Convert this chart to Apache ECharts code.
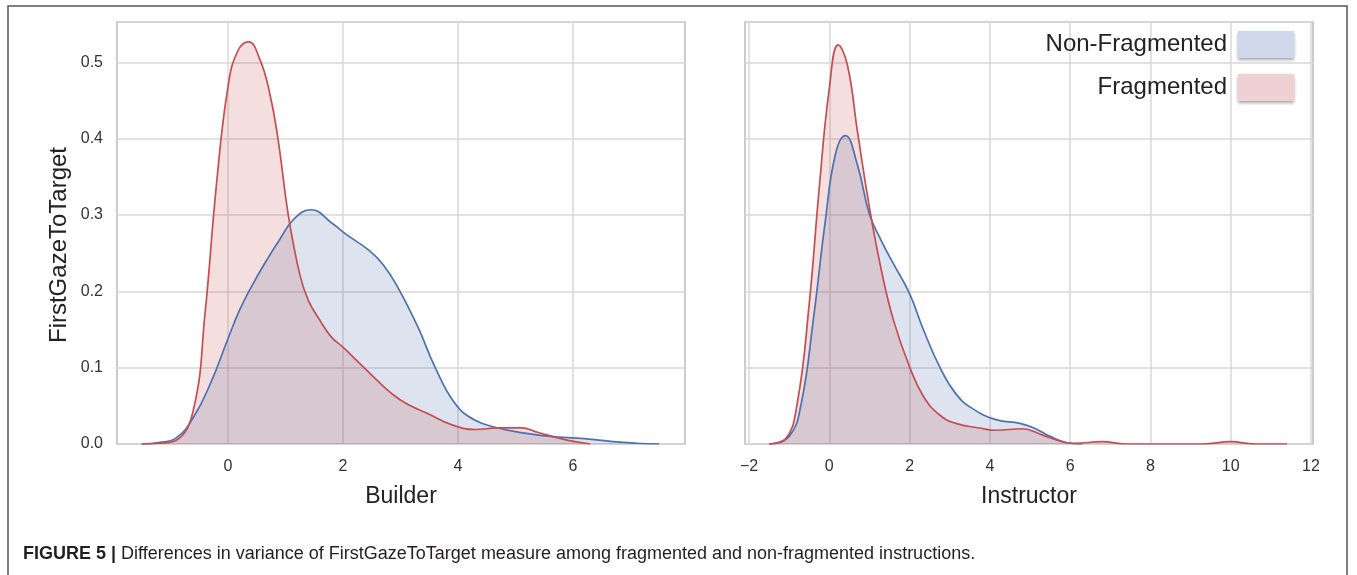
<!DOCTYPE html>
<html>
<head>
<meta charset="utf-8">
<script src="https://cdn.jsdelivr.net/npm/echarts@6/dist/echarts.min.js"></script>
<style>html,body{margin:0;padding:0;background:#fff}#c{width:1357px;height:575px}</style>
</head>
<body>
<div id="c"></div>
<script>
// ---- data ----
const seriesNames = ['Non-Fragmented', 'Fragmented'];
const panelTitles = ['Builder', 'Instructor'];
const yTitle = 'FirstGazeToTarget';
const yTicks = [0, 0.1, 0.2, 0.3, 0.4, 0.5];
const builderTicks = [0, 2, 4, 6];
const instructorTicks = [-2, 0, 2, 4, 6, 8, 10, 12];

// Builder panel
const builderNonFragX = [-1.5, -1.2, -0.9, -0.6, -0.3, 0.0, 0.2, 0.4, 0.65, 0.9, 1.15, 1.45, 1.8, 2.05, 2.45, 2.7, 2.95, 3.3, 3.6, 3.95, 4.3, 4.7, 5.1, 5.6, 6.2, 6.7, 7.1, 7.5];
const builderNonFragY = [0, 0.002, 0.008, 0.035, 0.08, 0.138, 0.175, 0.205, 0.238, 0.268, 0.295, 0.307, 0.29, 0.275, 0.254, 0.235, 0.206, 0.154, 0.101, 0.053, 0.031, 0.021, 0.015, 0.010, 0.007, 0.003, 0.001, 0];
const builderFragX = [-1.5, -1.2, -0.9, -0.6, -0.4, -0.2, 0.0, 0.17, 0.36, 0.55, 0.72, 0.87, 1.05, 1.25, 1.4, 1.6, 1.8, 2.0, 2.3, 2.6, 2.85, 3.1, 3.5, 3.9, 4.3, 4.7, 5.1, 5.4, 5.9, 6.3];
const builderFragY = [0, 0.001, 0.005, 0.045, 0.17, 0.34, 0.468, 0.515, 0.527, 0.505, 0.462, 0.40, 0.30, 0.222, 0.188, 0.162, 0.14, 0.127, 0.105, 0.083, 0.066, 0.053, 0.039, 0.025, 0.019, 0.021, 0.021, 0.015, 0.005, 0];

// Instructor panel
const instrNonFragX = [-1.5, -1.0, -0.7, -0.4, -0.1, 0.15, 0.4, 0.7, 1.0, 1.3, 1.6, 2.0, 2.35, 2.75, 3.15, 3.55, 4.15, 4.75, 5.1, 5.5, 5.9, 6.3];
const instrNonFragY = [0, 0.01, 0.053, 0.162, 0.292, 0.379, 0.404, 0.366, 0.301, 0.266, 0.236, 0.197, 0.149, 0.101, 0.066, 0.047, 0.032, 0.027, 0.021, 0.010, 0.002, 0];
const instrFragX = [-1.5, -1.1, -0.8, -0.5, -0.25, 0.0, 0.22, 0.45, 0.7, 1.0, 1.3, 1.6, 2.0, 2.35, 2.75, 3.15, 3.75, 4.15, 4.8, 5.3, 5.8, 6.1, 6.8, 7.4, 9.3, 10.0, 10.6, 11.4];
const instrFragY = [0, 0.006, 0.053, 0.184, 0.336, 0.466, 0.523, 0.497, 0.41, 0.31, 0.227, 0.162, 0.101, 0.062, 0.038, 0.027, 0.021, 0.018, 0.02, 0.012, 0.003, 0.001, 0.003, 0, 0, 0.003, 0, 0];

const captionBold = 'FIGURE 5 |';
const captionText = ' Differences in variance of FirstGazeToTarget measure among fragmented and non-fragmented instructions.';

// ---- styling ----
const FONT = '"Liberation Sans", Arial, sans-serif';
const BLUE = '#4c72b0', RED = '#c44e52';
const BLUE_FILL = 'rgba(76,114,176,0.27)', RED_FILL = 'rgba(196,78,82,0.27)';
const GRIDC = '#d8d8d8';

function zip(xs, ys) { return xs.map((x, i) => [x, ys[i]]); }

function xAxis(idx, min, max, ticks, name) {
  return {
    type: 'value', gridIndex: idx, min: min, max: max,
    name: name, nameLocation: 'middle', nameGap: 41,
    nameTextStyle: { fontSize: 23, color: '#222', fontFamily: FONT },
    axisLine: { show: false },
    axisTick: { show: false, customValues: ticks },
    axisLabel: { customValues: ticks, fontSize: 16, color: '#333', margin: 15, fontFamily: FONT,
      formatter: v => (v < 0 ? '\u2212' + Math.abs(v) : String(v)) },
    splitLine: { show: true, lineStyle: { color: GRIDC, width: 1.5 } }
  };
}
function yAxis(idx, showLabels) {
  return {
    type: 'value', gridIndex: idx, min: 0, max: 0.553, interval: 0.1,
    axisLine: { show: false }, axisTick: { show: false },
    axisLabel: { show: showLabels, fontSize: 16, color: '#333', margin: 14, fontFamily: FONT,
      showMaxLabel: false, formatter: v => v.toFixed(1) },
    splitLine: { show: true, lineStyle: { color: GRIDC, width: 1.5 } }
  };
}
function kde(name, idx, data, color, fill) {
  return {
    name: name, type: 'line', xAxisIndex: idx, yAxisIndex: idx,
    data: data, smooth: 0.45, showSymbol: false, symbol: 'none',
    lineStyle: { color: color, width: 1.7 }, itemStyle: { color: color },
    areaStyle: { color: fill, origin: 'start' }, silent: true, animation: false
  };
}

const chart = echarts.init(document.getElementById('c'), null, { renderer: 'canvas' });
chart.setOption({
  animation: false,
  backgroundColor: '#fff',
  grid: [
    { left: 117, top: 22, width: 568, height: 422, show: true, borderColor: '#cccccc', borderWidth: 2, backgroundColor: 'transparent' },
    { left: 745, top: 22, width: 568, height: 422, show: true, borderColor: '#cccccc', borderWidth: 2, backgroundColor: 'transparent' }
  ],
  xAxis: [
    xAxis(0, -1.93, 7.95, builderTicks, panelTitles[0]),
    xAxis(1, -2.1, 12.05, instructorTicks, panelTitles[1])
  ],
  yAxis: [yAxis(0, true), yAxis(1, false)],
  legend: {
    orient: 'vertical', right: 63, top: 31, align: 'right', padding: 0,
    itemWidth: 56, itemHeight: 27, itemGap: 16,
    textStyle: { fontSize: 24, color: '#222', fontFamily: FONT, padding: [0, 6, 0, 0] },
    data: [
      { name: seriesNames[0], icon: 'rect', itemStyle: { color: '#cfd8ea', shadowColor: 'rgba(0,0,0,0.35)', shadowBlur: 3, shadowOffsetY: 2 } },
      { name: seriesNames[1], icon: 'rect', itemStyle: { color: '#efd1d3', shadowColor: 'rgba(0,0,0,0.35)', shadowBlur: 3, shadowOffsetY: 2 } }
    ],
    selectedMode: false
  },
  series: [
    kde(seriesNames[0], 0, zip(builderNonFragX, builderNonFragY), BLUE, BLUE_FILL),
    kde(seriesNames[1], 0, zip(builderFragX, builderFragY), RED, RED_FILL),
    kde(seriesNames[0], 1, zip(instrNonFragX, instrNonFragY), BLUE, BLUE_FILL),
    kde(seriesNames[1], 1, zip(instrFragX, instrFragY), RED, RED_FILL)
  ],
  graphic: [
    { type: 'rect', silent: true, shape: { x: 8, y: 6, width: 1339, height: 640 },
      style: { fill: 'none', stroke: '#555', lineWidth: 1.5 } },
    { type: 'text', x: 59, y: 245, rotation: Math.PI / 2, silent: true,
      style: { text: yTitle, fontSize: 24, fill: '#222', fontFamily: FONT, align: 'center', verticalAlign: 'middle' } },
    { type: 'text', left: 23, top: 545, silent: true,
      style: { text: '{b|' + captionBold + '}{n|' + captionText + '}',
        rich: { b: { fontSize: 18, fontWeight: 'bold', fill: '#231f20', fontFamily: FONT },
                n: { fontSize: 18, fill: '#231f20', fontFamily: FONT } } } }
  ]
});
</script>
</body>
</html>
